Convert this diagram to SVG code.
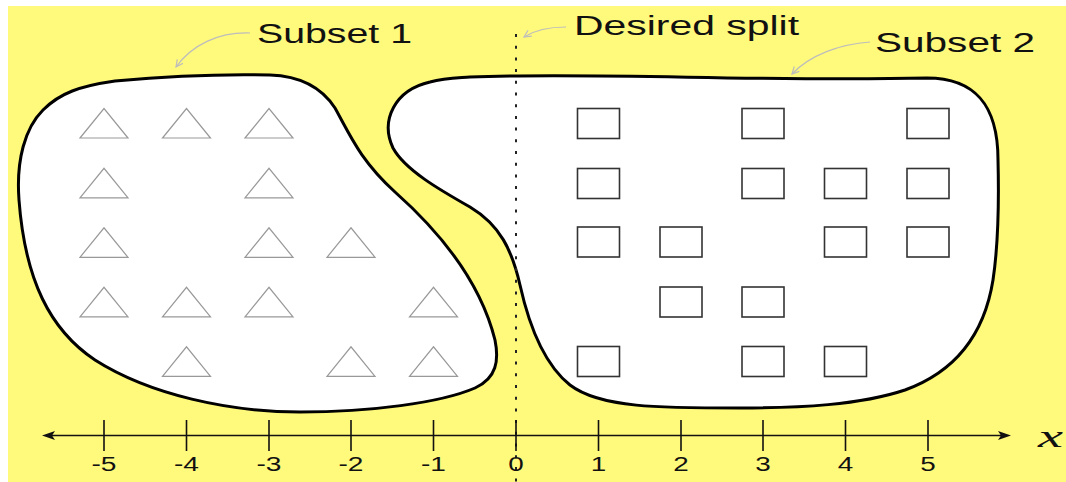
<svg xmlns="http://www.w3.org/2000/svg" width="1066" height="482" viewBox="0 0 1066 482">
<style>
.blob{fill:#fff;stroke:#000;stroke-width:3;stroke-linejoin:round}
.tri{fill:none;stroke:#999;stroke-width:1.2}
.sq{fill:#fff;stroke:#333;stroke-width:1.6}
.lbl{font-family:"Liberation Sans",Arial,sans-serif;font-size:27.5px;fill:#111}
.tick{font-family:"Liberation Sans",Arial,sans-serif;font-size:19.5px;fill:#111;text-anchor:middle}
.callout{fill:none;stroke:#bdbdbd;stroke-width:1.2}
.axis{stroke:#111;stroke-width:1.6;fill:none}
</style>
<defs>
<polygon id="tri" class="tri" points="-24,29.5 0,0 24,29.5"/>
<rect id="sq" class="sq" x="-21" y="0" width="42" height="30"/>
<marker id="vhead" markerUnits="userSpaceOnUse" markerWidth="12" markerHeight="12" refX="8" refY="4" orient="auto">
<path d="M1,0.5 L8,4 L1,7.5" fill="none" stroke="#bdbdbd" stroke-width="1.2"/>
</marker>
</defs>
<rect x="0" y="0" width="1066" height="482" fill="#fff"/>
<rect x="8" y="6" width="1058" height="476" fill="#fff97c"/>

<g id="subset1">
<path class="blob" d="M43,110 C60,93 80,86 115,81 C170,76 230,74 270,75 C300,76 322,88 335,108 C350,135 360,160 395,192 C440,232 480,280 495,340 C499,360 497,378 475,388 C440,403 370,412 300,412 C230,412 150,395 95,360 C50,330 25,280 19,200 C16,160 25,128 43,110 Z"/>
<use href="#tri" x="104" y="108.5"/><use href="#tri" x="186.5" y="108.5"/><use href="#tri" x="269" y="108.5"/><use href="#tri" x="433.5" y="108.5"/>
<use href="#tri" x="104" y="168.3"/><use href="#tri" x="269" y="168.3"/>
<use href="#tri" x="104" y="227.8"/><use href="#tri" x="269" y="227.8"/><use href="#tri" x="351" y="227.8"/>
<use href="#tri" x="104" y="287.3"/><use href="#tri" x="186.5" y="287.3"/><use href="#tri" x="269" y="287.3"/><use href="#tri" x="433.5" y="287.3"/>
<use href="#tri" x="186.5" y="346.8"/><use href="#tri" x="351" y="346.8"/><use href="#tri" x="433.5" y="346.8"/>
</g>

<g id="subset2">
<path class="blob" d="M470,77 C600,72 760,82 927,78 C975,78 998,105 998,160 C999,200 999,240 993,280 C985,330 960,370 905,390 C860,405 800,408 740,408 C660,408 600,408 570,385 C545,365 530,330 520,285 C512,250 500,225 470,207 C440,190 405,170 393,148 C380,120 395,90 430,82 C445,78 458,78 470,77 Z"/>
<use href="#sq" x="598.5" y="108.5"/><use href="#sq" x="763" y="108.5"/><use href="#sq" x="928" y="108.5"/>
<use href="#sq" x="598.5" y="168.5"/><use href="#sq" x="763" y="168.5"/><use href="#sq" x="845.5" y="168.5"/><use href="#sq" x="928" y="168.5"/>
<use href="#sq" x="598.5" y="227"/><use href="#sq" x="681" y="227"/><use href="#sq" x="845.5" y="227"/><use href="#sq" x="928" y="227"/>
<use href="#sq" x="681" y="287"/><use href="#sq" x="763" y="287"/>
<use href="#sq" x="598.5" y="346.5"/><use href="#sq" x="763" y="346.5"/><use href="#sq" x="845.5" y="346.5"/>
</g>

<g id="split">
<line x1="516" y1="34" x2="516" y2="482" stroke="#222" stroke-width="2" stroke-dasharray="3 8.7"/>
</g>

<g id="connectors">
<path class="callout" d="M250,33 C218,32 192,45 176,67" marker-end="url(#vhead)"/>
<path class="callout" d="M566,27 C550,27 535,30 524,37" marker-end="url(#vhead)"/>
<path class="callout" d="M870,42 C840,44 810,55 792,74" marker-end="url(#vhead)"/>
</g>

<g id="labels">
<text class="lbl" x="257" y="43" textLength="155" lengthAdjust="spacingAndGlyphs">Subset 1</text>
<text class="lbl" x="574" y="35" textLength="225" lengthAdjust="spacingAndGlyphs">Desired split</text>
<text class="lbl" x="875" y="52" textLength="160" lengthAdjust="spacingAndGlyphs">Subset 2</text>
</g>

<g id="axis">
<line class="axis" x1="50" y1="435.5" x2="1002" y2="435.5"/>
<polygon points="42,435.5 55,431 52,435.5 55,440" fill="#111"/>
<polygon points="1011,435.5 998,431 1001,435.5 998,440" fill="#111"/>
<g class="axis">
<line x1="104" y1="420" x2="104" y2="451"/>
<line x1="186.5" y1="420" x2="186.5" y2="451"/>
<line x1="269" y1="420" x2="269" y2="451"/>
<line x1="351" y1="420" x2="351" y2="451"/>
<line x1="433.5" y1="420" x2="433.5" y2="451"/>
<line x1="516" y1="420" x2="516" y2="451"/>
<line x1="598.5" y1="420" x2="598.5" y2="451"/>
<line x1="681" y1="420" x2="681" y2="451"/>
<line x1="763" y1="420" x2="763" y2="451"/>
<line x1="845.5" y1="420" x2="845.5" y2="451"/>
<line x1="928" y1="420" x2="928" y2="451"/>
</g>
<text class="tick" x="104" y="471" textLength="25" lengthAdjust="spacingAndGlyphs">-5</text>
<text class="tick" x="186.5" y="471" textLength="25" lengthAdjust="spacingAndGlyphs">-4</text>
<text class="tick" x="269" y="471" textLength="25" lengthAdjust="spacingAndGlyphs">-3</text>
<text class="tick" x="351" y="471" textLength="25" lengthAdjust="spacingAndGlyphs">-2</text>
<text class="tick" x="433.5" y="471" textLength="25" lengthAdjust="spacingAndGlyphs">-1</text>
<text class="tick" x="516" y="471" textLength="15.5" lengthAdjust="spacingAndGlyphs">0</text>
<text class="tick" x="598.5" y="471" textLength="15.5" lengthAdjust="spacingAndGlyphs">1</text>
<text class="tick" x="681" y="471" textLength="15.5" lengthAdjust="spacingAndGlyphs">2</text>
<text class="tick" x="763" y="471" textLength="15.5" lengthAdjust="spacingAndGlyphs">3</text>
<text class="tick" x="845.5" y="471" textLength="15.5" lengthAdjust="spacingAndGlyphs">4</text>
<text class="tick" x="928" y="471" textLength="15.5" lengthAdjust="spacingAndGlyphs">5</text>
<text x="1038" y="447" font-family="'Liberation Serif','Times New Roman',serif" font-style="italic" font-size="32" textLength="25" lengthAdjust="spacingAndGlyphs" fill="#111">x</text>
</g>
</svg>
